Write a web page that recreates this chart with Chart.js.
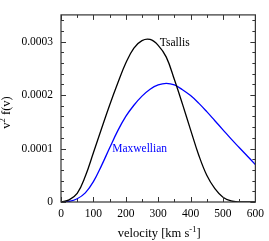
<!DOCTYPE html>
<html>
<head>
<meta charset="utf-8">
<script src="https://cdn.jsdelivr.net/npm/chart.js@4/dist/chart.umd.min.js"></script>
<style>
html,body{margin:0;padding:0;background:#fff}
#wrap{width:269px;height:241px;position:relative}
</style>
</head>
<body>
<div id="wrap"><canvas id="c"></canvas></div>
<script>
// velocity grid (km/s) and the two curves
const velocity=[0,25,50,75,100,125,150,175,200,225,250,275,300,325,350,375,400,425,450,475,500,525,550,575,600];
const tsallis=[0,0.04e-4,0.16e-4,0.48e-4,0.92e-4,1.37e-4,1.81e-4,2.22e-4,2.60e-4,2.88e-4,3.02e-4,3.04e-4,2.93e-4,2.71e-4,2.29e-4,1.83e-4,1.35e-4,0.88e-4,0.50e-4,0.25e-4,0.09e-4,0.02e-4,0,0,0];
const maxwellian=[0,0.01e-4,0.06e-4,0.17e-4,0.38e-4,0.68e-4,1.01e-4,1.33e-4,1.60e-4,1.81e-4,1.98e-4,2.11e-4,2.19e-4,2.22e-4,2.19e-4,2.10e-4,1.99e-4,1.85e-4,1.69e-4,1.52e-4,1.35e-4,1.18e-4,1.02e-4,0.86e-4,0.70e-4];
const xTicks=[0,100,200,300,400,500,600];
const yTicks=[0,0.0001,0.0002,0.0003];
const curveLabels=['Tsallis','Maxwellian'];

const serif='"Liberation Serif","Times New Roman",serif';

function pts(ys){
    return velocity.map((v,i)=>({x:v,y:ys[i]}));
}

// box, inward ticks on all sides, titles and curve labels
const frame={
    id:'frame',
    afterDatasetsDraw(chart){
        const {ctx,chartArea:a,scales:{x,y}}=chart;
        ctx.save();
        ctx.strokeStyle='#333';
        ctx.lineWidth=1.2;
        ctx.strokeRect(a.left,a.top,a.right-a.left,a.bottom-a.top);
        ctx.lineWidth=1;
        ctx.beginPath();
        for(let i=0;i<=12;i++){
            const px=Math.round(x.getPixelForValue(i*50))+0.5;
            const len=i%2===0?5:3;
            ctx.moveTo(px,a.bottom);ctx.lineTo(px,a.bottom-len);
            ctx.moveTo(px,a.top);ctx.lineTo(px,a.top+len);
        }
        for(let i=0;i<=17;i++){
            const py=Math.round(y.getPixelForValue(i*2e-5))+0.5;
            const len=i%5===0?5:3;
            ctx.moveTo(a.left,py);ctx.lineTo(a.left+len,py);
            ctx.moveTo(a.right,py);ctx.lineTo(a.right-len,py);
        }
        ctx.stroke();

        // curve labels
        ctx.font='11.5px '+serif;
        ctx.textBaseline='middle';
        ctx.textAlign='left';
        ctx.fillStyle='#000';
        ctx.fillText(curveLabels[0],x.getPixelForValue(305),y.getPixelForValue(2.98e-4));
        ctx.fillStyle='#0000ff';
        ctx.fillText(curveLabels[1],x.getPixelForValue(158),y.getPixelForValue(0.995e-4));

        // x title with superscript
        ctx.fillStyle='#000';
        ctx.textBaseline='alphabetic';
        const big='12.5px '+serif, small='8.5px '+serif;
        ctx.font=big;
        const p1='velocity [km s', p3=']';
        const w1=ctx.measureText(p1).width, w3=ctx.measureText(p3).width;
        ctx.font=small;
        const p2='-1', w2=ctx.measureText(p2).width;
        let sx=(a.left+a.right)/2-(w1+w2+w3)/2+1;
        const by=237;
        ctx.font=big;ctx.fillText(p1,sx,by);
        ctx.font=small;ctx.fillText(p2,sx+w1,by-5);
        ctx.font=big;ctx.fillText(p3,sx+w1+w2,by);

        // y title, rotated
        ctx.translate(10,(a.top+a.bottom)/2+4);
        ctx.rotate(-Math.PI/2);
        ctx.font=big;
        const q1='v', q3=' f(v)';
        const v1=ctx.measureText(q1).width, v3=ctx.measureText(q3).width;
        ctx.font=small;
        const q2='2', v2=ctx.measureText(q2).width;
        let tx=-(v1+v2+v3)/2;
        ctx.font=big;ctx.fillText(q1,tx,0);
        ctx.font=small;ctx.fillText(q2,tx+v1,-5);
        ctx.font=big;ctx.fillText(q3,tx+v1+v2,0);
        ctx.restore();
    }
};

new Chart(document.getElementById('c'),{
    type:'line',
    data:{
        datasets:[
            {label:curveLabels[0],data:pts(tsallis),borderColor:'#000',borderWidth:1.3,pointRadius:0,tension:0.4,fill:false},
            {label:curveLabels[1],data:pts(maxwellian),borderColor:'#0000ff',borderWidth:1.3,pointRadius:0,tension:0.4,fill:false}
        ]
    },
    options:{
        responsive:true,
        maintainAspectRatio:false,
        animation:false,
        devicePixelRatio:1,
        layout:{padding:{top:2,right:11,left:0,bottom:0}},
        plugins:{legend:{display:false},tooltip:{enabled:false}},
        scales:{
            x:{
                type:'linear',min:0,max:600,
                grid:{display:false,drawTicks:false},
                border:{display:false},
                afterBuildTicks:s=>{s.ticks=xTicks.map(v=>({value:v}));},
                afterFit:s=>{s.height=39;},
                ticks:{color:'#000',font:{family:serif,size:11.5},padding:5,maxRotation:0}
            },
            y:{
                type:'linear',min:0,max:0.00035,
                grid:{display:false,drawTicks:false},
                border:{display:false},
                afterBuildTicks:s=>{s.ticks=yTicks.map(v=>({value:v}));},
                afterFit:s=>{s.width=61;},
                ticks:{color:'#000',font:{family:serif,size:11.5},padding:8,
                    callback:v=>v===0?'0':v.toFixed(4)}
            }
        }
    },
    plugins:[frame]
});
</script>
</body>
</html>
